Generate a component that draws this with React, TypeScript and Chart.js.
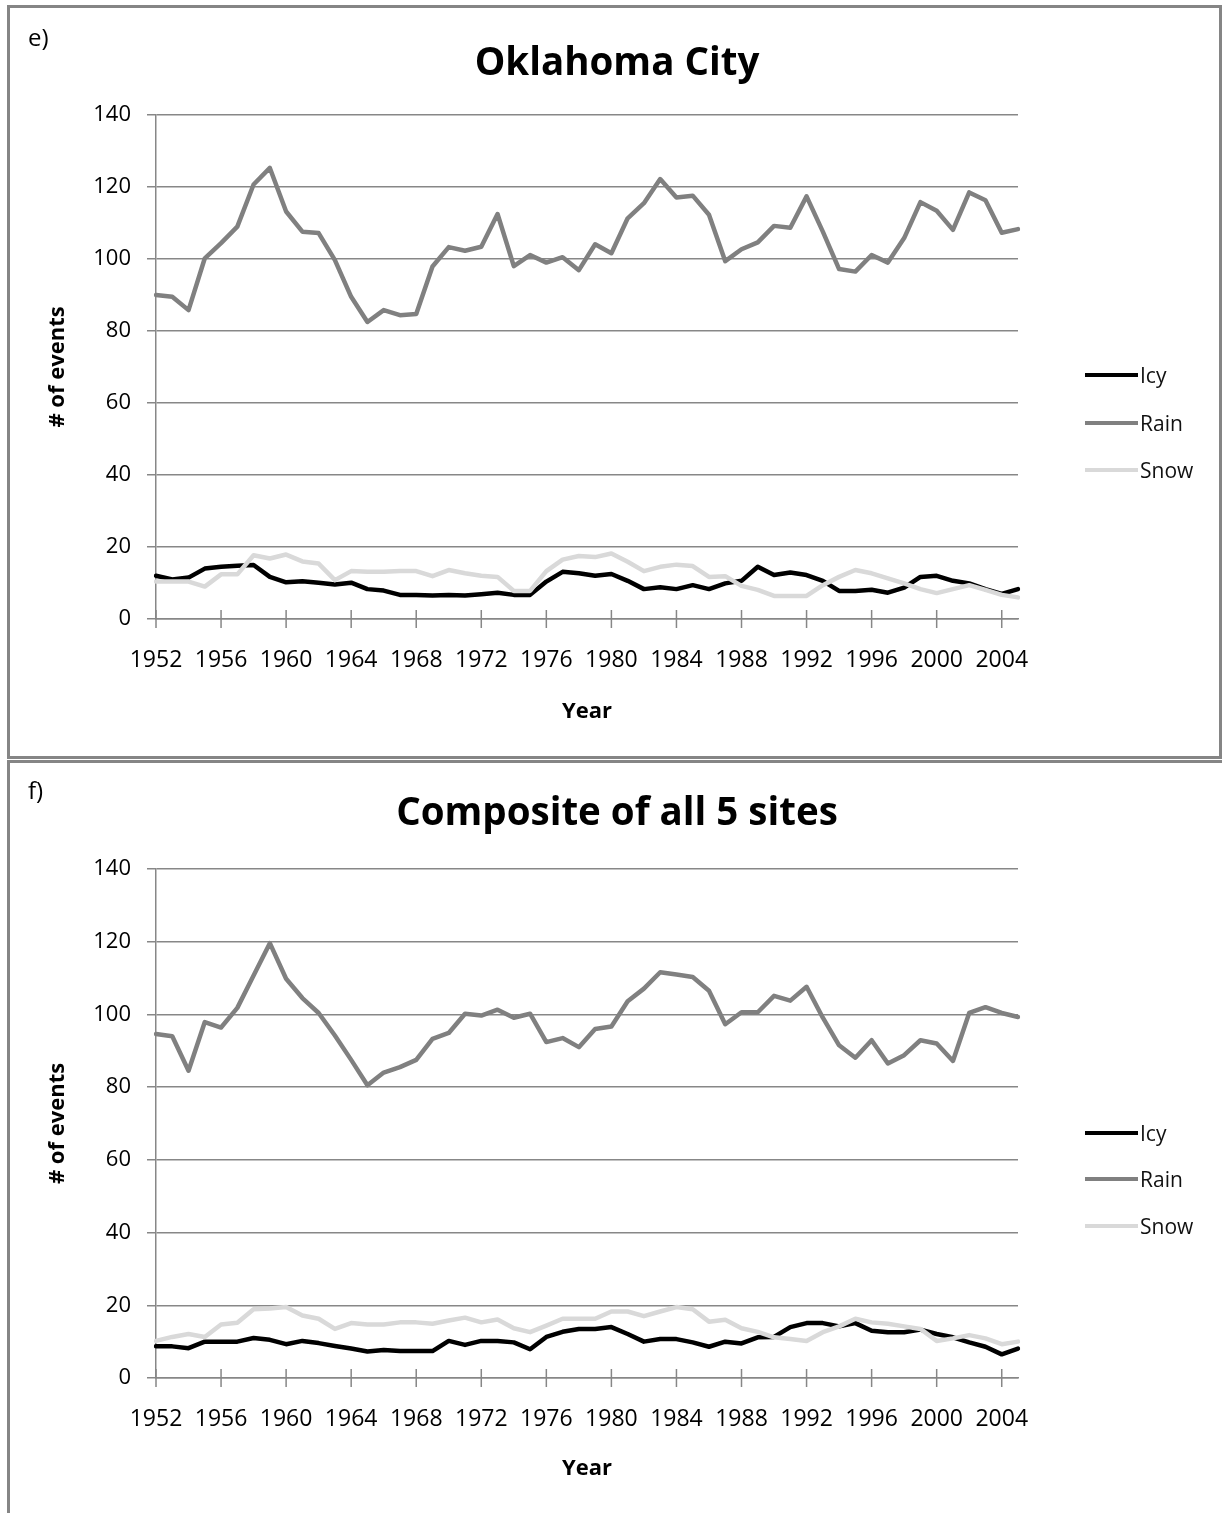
import { useEffect, useRef } from "react";
import { Chart, registerables, ChartConfiguration, Plugin } from "chart.js";

Chart.register(...registerables);

const years: string[] = [
  "1952", "1953", "1954", "1955", "1956", "1957", "1958", "1959", "1960", "1961",
  "1962", "1963", "1964", "1965", "1966", "1967", "1968", "1969", "1970", "1971",
  "1972", "1973", "1974", "1975", "1976", "1977", "1978", "1979", "1980", "1981",
  "1982", "1983", "1984", "1985", "1986", "1987", "1988", "1989", "1990", "1991",
  "1992", "1993", "1994", "1995", "1996", "1997", "1998", "1999", "2000", "2001",
  "2002", "2003", "2004", "2005",
];
const xTickLabels: string[] = [
  "1952", "1956", "1960", "1964", "1968", "1972", "1976", "1980", "1984",
  "1988", "1992", "1996", "2000", "2004",
];
const yTickValues: number[] = [0, 20, 40, 60, 80, 100, 120, 140];
const seriesNames: string[] = ["Icy", "Rain", "Snow"];

// Oklahoma City
const okcIcy: number[] = [
  12, 11, 11.5, 14, 14.5, 14.8, 15, 11.7, 10.2, 10.5,
  10.1, 9.6, 10.1, 8.3, 7.9, 6.7, 6.7, 6.5, 6.7, 6.5,
  6.9, 7.3, 6.7, 6.7, 10.4, 13.1, 12.7, 12, 12.5, 10.6,
  8.3, 8.8, 8.3, 9.4, 8.3, 9.9, 10.6, 14.5, 12.2, 12.9,
  12.2, 10.6, 7.8, 7.8, 8.1, 7.3, 8.7, 11.7, 12, 10.6,
  9.9, 8.3, 7, 8.3,
];
const okcRain: number[] = [
  90, 89.5, 85.8, 100.2, 104.4, 109, 120.7, 125.3, 113.2, 107.6,
  107.2, 99.7, 89.5, 82.5, 85.8, 84.4, 84.7, 97.9, 103.3, 102.3,
  103.4, 112.5, 98, 101.1, 99, 100.5, 96.9, 104.1, 101.6, 111.3,
  115.5, 122.2, 117.1, 117.6, 112.3, 99.4, 102.7, 104.6, 109.2, 108.7,
  117.4, 107.6, 97.2, 96.5, 101.1, 99, 105.8, 115.8, 113.4, 108.1,
  118.5, 116.3, 107.3, 108.3,
];
const okcSnow: number[] = [
  10.4, 10.4, 10.4, 9, 12.4, 12.4, 17.7, 16.8, 17.9, 16,
  15.4, 10.8, 13.3, 13.1, 13.1, 13.3, 13.3, 11.9, 13.6, 12.7,
  12, 11.7, 7.8, 7.8, 13.3, 16.5, 17.5, 17.2, 18.2, 15.9,
  13.3, 14.5, 15.1, 14.7, 11.7, 11.9, 9.2, 8.1, 6.4, 6.4,
  6.4, 9.4, 11.7, 13.6, 12.7, 11.3, 9.9, 8.3, 7.2, 8.3,
  9.4, 8.1, 6.7, 6,
];

// Composite of all 5 sites
const compIcy: number[] = [
  8.7, 8.7, 8.2, 10, 10, 10, 11, 10.5, 9.3, 10.2,
  9.6, 8.8, 8.1, 7.3, 7.7, 7.4, 7.4, 7.4, 10.2, 9.1,
  10.2, 10.2, 9.8, 7.9, 11.3, 12.7, 13.5, 13.5, 14, 12.1,
  10, 10.7, 10.7, 9.8, 8.6, 10, 9.5, 11.2, 11.3, 14,
  15.1, 15.1, 14.2, 15.1, 13, 12.6, 12.6, 13.3, 12.1, 11.2,
  9.8, 8.6, 6.5, 8.1,
];
const compRain: number[] = [
  94.6, 94, 84.5, 97.9, 96.4, 101.8, 110.7, 119.6, 109.8, 104.5,
  100.4, 94.2, 87.5, 80.5, 84, 85.5, 87.5, 93.3, 94.9, 100.2,
  99.7, 101.3, 99.1, 100.2, 92.4, 93.5, 91, 96, 96.7, 103.6,
  107.1, 111.6, 111, 110.3, 106.5, 97.3, 100.6, 100.6, 105.1, 103.8,
  107.6, 99.1, 91.5, 88.1, 92.9, 86.5, 88.8, 92.9, 92, 87.2,
  100.4, 102, 100.4, 99.3,
];
const compSnow: number[] = [
  10.2, 11.3, 12.1, 11.3, 14.7, 15.2, 18.9, 19.1, 19.5, 17.2,
  16.3, 13.5, 15.1, 14.7, 14.7, 15.3, 15.3, 14.9, 15.8, 16.6,
  15.3, 16.1, 13.7, 12.6, 14.4, 16.3, 16.3, 16.3, 18.3, 18.3,
  17, 18.3, 19.5, 18.9, 15.5, 16, 13.7, 12.7, 11.2, 10.7,
  10.2, 12.6, 14.2, 16.3, 15.3, 14.9, 14.2, 13.5, 10.2, 10.9,
  11.8, 10.9, 9.3, 10,
];

const seriesColors = ["#000000", "#808080", "#d9d9d9"];
const GRID = "#878787";
const FONT = "'Open Sans', 'DejaVu Sans', sans-serif";
const CANVAS_W = 1209;

// excel style tick marks that cross the category axis
const crossTicks: Plugin<"line"> = {
  id: "crossTicks",
  beforeDatasetsDraw(chart) {
    const xs = chart.scales.x;
    const ys = chart.scales.y;
    const ctx = chart.ctx;
    const base = ys.getPixelForValue(0);
    ctx.save();
    ctx.strokeStyle = GRID;
    ctx.lineWidth = 1.5;
    ctx.beginPath();
    xTickLabels.forEach((label) => {
      const px = xs.getPixelForValue(years.indexOf(label));
      ctx.moveTo(px, base - 9);
      ctx.lineTo(px, base + 9);
    });
    ctx.stroke();
    ctx.restore();
  },
};

type PanelProps = {
  tag: string;
  title: string;
  icy: number[];
  rain: number[];
  snow: number[];
  top: number;
  height: number;
  plotTop: number;
  plotBottom: number;
  titleY: number;
  legendY: number[];
  last?: boolean;
};

function Panel({ tag, title, icy, rain, snow, top, height, plotTop, plotBottom, titleY, legendY, last }: PanelProps) {
  const canvasRef = useRef<HTMLCanvasElement | null>(null);
  const innerH = height - (last ? 3 : 6);

  useEffect(() => {
    if (!canvasRef.current) return;
    const values = [icy, rain, snow];
    const config: ChartConfiguration<"line"> = {
      type: "line",
      data: {
        labels: years,
        datasets: seriesNames.map((name, i) => ({
          label: name,
          data: values[i],
          borderColor: seriesColors[i],
          backgroundColor: seriesColors[i],
          borderWidth: 4.5,
          borderJoinStyle: "round" as const,
          borderCapStyle: "round" as const,
          pointRadius: 0,
          tension: 0,
          order: 3 - i,
        })),
      },
      options: {
        responsive: false,
        animation: false,
        layout: { padding: { top: plotTop, left: 0, bottom: 0, right: CANVAS_W - 1008 } },
        plugins: {
          legend: { display: false },
          tooltip: { enabled: false },
          title: { display: false },
        },
        scales: {
          x: {
            type: "category",
            offset: false,
            grid: { display: false, drawTicks: false },
            border: { display: true, color: GRID, width: 1.5 },
            ticks: {
              autoSkip: false,
              maxRotation: 0,
              padding: 28,
              color: "#000",
              font: { family: FONT, size: 23 },
              callback: (_v, index) => (xTickLabels.includes(years[index]) ? years[index] : ""),
            },
            title: {
              display: true,
              text: "Year",
              color: "#000",
              font: { family: FONT, size: 22, weight: "bold" },
              padding: { top: 0, bottom: 31 },
            },
            afterFit: (scale) => {
              scale.height = innerH - plotBottom;
            },
          },
          y: {
            min: 0,
            max: 140,
            afterBuildTicks: (scale) => {
              scale.ticks = yTickValues.map((v) => ({ value: v }));
            },
            grid: { color: GRID, lineWidth: 1.5, drawTicks: true, tickLength: 9 },
            border: { display: true, color: GRID, width: 1.5 },
            ticks: {
              padding: 16,
              color: "#000",
              font: { family: FONT, size: 22 },
            },
            title: {
              display: true,
              text: "# of events",
              color: "#000",
              font: { family: FONT, size: 22, weight: "bold" },
              padding: { top: 35, bottom: 0 },
            },
            afterFit: (scale) => {
              scale.width = 146;
            },
          },
        },
      },
      plugins: [crossTicks],
    };
    const chart = new Chart(canvasRef.current, config);
    return () => chart.destroy();
  }, [icy, rain, snow, innerH, plotTop, plotBottom]);

  return (
    <div
      style={{
        position: "absolute",
        left: 7,
        top,
        width: 1215,
        height,
        boxSizing: "border-box",
        border: "3px solid #858585",
        borderRight: last ? "none" : "3px solid #858585",
        borderBottom: last ? "none" : "3px solid #858585",
      }}
    >
      <canvas
        ref={canvasRef}
        width={CANVAS_W}
        height={innerH}
        style={{ position: "absolute", left: 0, top: 0, width: CANVAS_W, height: innerH }}
      />
      <div
        style={{
          position: "absolute",
          left: 18,
          top: last ? 12 : 14,
          fontFamily: FONT,
          fontSize: 24,
          lineHeight: "30px",
          color: "#000",
        }}
      >
        {tag}
      </div>
      <div
        style={{
          position: "absolute",
          left: 0,
          width: 1214,
          top: titleY - 25,
          height: 50,
          lineHeight: "50px",
          textAlign: "center",
          fontFamily: FONT,
          fontSize: 38.5,
          fontWeight: "bold",
          color: "#000",
          whiteSpace: "nowrap",
        }}
      >
        {title}
      </div>
      {seriesNames.map((name, i) => (
        <div
          key={name}
          style={{
            position: "absolute",
            left: 1075,
            top: legendY[i] - 15,
            height: 30,
            display: "flex",
            alignItems: "center",
            fontFamily: FONT,
            fontSize: 21,
            color: "#111",
          }}
        >
          <span style={{ display: "inline-block", width: 53, height: 4.5, background: seriesColors[i], marginRight: 2 }} />
          <span>{name}</span>
        </div>
      ))}
    </div>
  );
}

export default function App() {
  return (
    <div style={{ position: "fixed", left: 0, top: 0, width: 1222, height: 1513, background: "#fff", overflow: "hidden" }}>
      <Panel
        tag="e)"
        title="Oklahoma City"
        icy={okcIcy}
        rain={okcRain}
        snow={okcSnow}
        top={5}
        height={754}
        plotTop={107}
        plotBottom={611}
        titleY={52}
        legendY={[367, 415, 462]}
      />
      <Panel
        tag="f)"
        title="Composite of all 5 sites"
        icy={compIcy}
        rain={compRain}
        snow={compSnow}
        top={760}
        height={753}
        plotTop={106}
        plotBottom={615}
        titleY={47}
        legendY={[370, 416, 463]}
        last
      />
    </div>
  );
}
